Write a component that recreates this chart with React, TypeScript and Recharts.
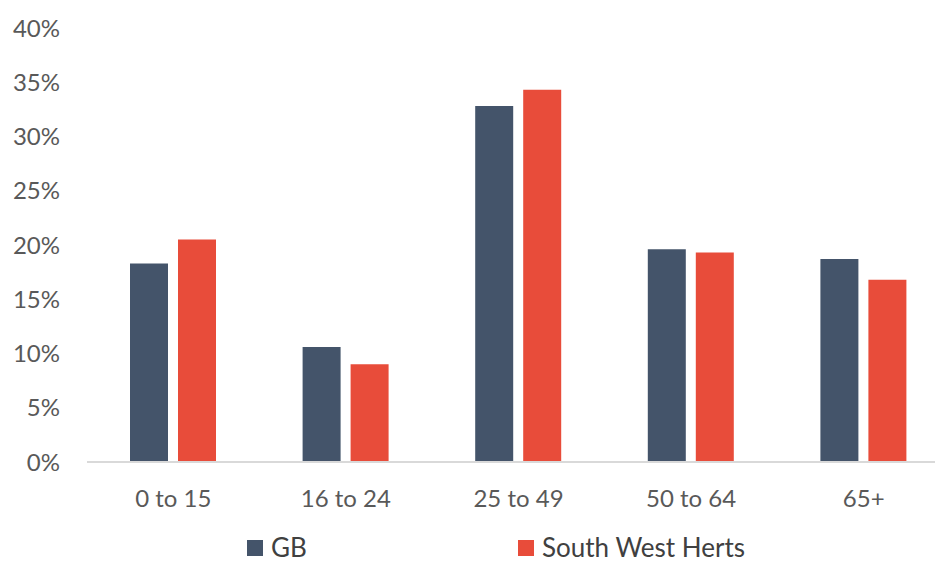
import { Bar, BarChart, XAxis, YAxis } from "recharts";

const ageBands = ["0 to 15", "16 to 24", "25 to 49", "50 to 64", "65+"];
const gbShare = [18.3, 10.6, 32.8, 19.6, 18.7];
const swhShare = [20.5, 9.0, 34.3, 19.3, 16.8];
const yTicks = [0, 5, 10, 15, 20, 25, 30, 35, 40];

const data = ageBands.map((band, i) => ({
  band,
  gb: gbShare[i],
  swh: swhShare[i],
}));

const FONT = "Lato, 'Open Sans', sans-serif";
const GB_COLOR = "#44546A";
const SWH_COLOR = "#E84C3A";
const TEXT = "#595959";

export default function App() {
  return (
    <div
      style={{
        position: "absolute",
        left: 0,
        top: 0,
        width: 935,
        height: 563,
        overflow: "hidden",
        background: "#fff",
        fontFamily: FONT,
      }}
    >
      <BarChart
        width={950}
        height={563}
        data={data}
        margin={{ top: 28, right: 0, bottom: 41, left: 0 }}
        barCategoryGap="25%"
        barGap={10}
      >
        <XAxis
          dataKey="band"
          tickLine={false}
          axisLine={{ stroke: "#D9D9D9", strokeWidth: 2 }}
          tick={{ fill: TEXT, fontSize: 24, fontFamily: FONT }}
          tickMargin={22}
          height={60}
        />
        <YAxis
          domain={[0, 40]}
          ticks={yTicks}
          tickFormatter={(v) => `${v}%`}
          axisLine={false}
          tickLine={false}
          width={87}
          tickMargin={21}
          tick={{ fill: TEXT, fontSize: 24, fontFamily: FONT }}
        />
        <Bar dataKey="gb" name="GB" fill={GB_COLOR} barSize={38} isAnimationActive={false} />
        <Bar dataKey="swh" name="South West Herts" fill={SWH_COLOR} barSize={38} isAnimationActive={false} />
      </BarChart>
      <div
        style={{
          position: "absolute",
          top: 532,
          left: 247,
          height: 31,
          display: "flex",
          alignItems: "center",
          fontSize: 26,
          color: "#404040",
          lineHeight: "31px",
        }}
      >
        <span style={{ width: 16, height: 16, background: GB_COLOR, display: "inline-block", marginRight: 8 }} />
        <span style={{ width: 247 }}>GB</span>
        <span style={{ width: 16, height: 16, background: SWH_COLOR, display: "inline-block", marginRight: 8 }} />
        <span>South West Herts</span>
      </div>
    </div>
  );
}
